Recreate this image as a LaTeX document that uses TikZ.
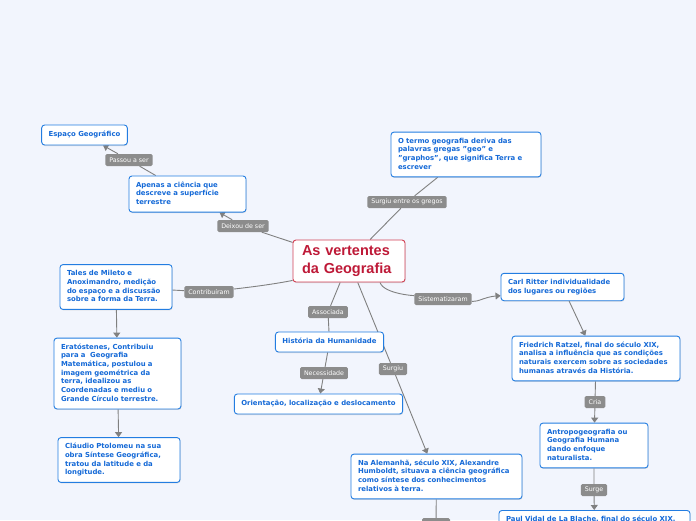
\documentclass[tikz,border=0pt]{standalone}
\usepackage{fontspec}
\setmainfont{DejaVu Sans}
\newfontfamily\titlefont{Liberation Sans}
\usetikzlibrary{arrows.meta,shadows,backgrounds}
\definecolor{pagebg}{RGB}{242,245,253}
\definecolor{boxblue}{RGB}{35,125,225}
\definecolor{txtblue}{RGB}{20,105,215}
\definecolor{titlered}{RGB}{190,25,55}
\definecolor{titleframe}{RGB}{210,65,85}
\definecolor{linkgray}{RGB}{128,128,128}
\definecolor{taggray}{RGB}{140,140,140}

\begin{document}
\begin{tikzpicture}[x=1pt,y=-1pt,
  idea/.style={draw=boxblue,line width=0.9pt,fill=white,rounded corners=3pt,
    text=txtblue,font=\fontsize{6.9}{8.7}\selectfont\bfseries,align=left,
    inner xsep=7pt,inner ysep=5pt,minimum height=20pt,
    execute at begin node=\strut,execute at end node=\strut,
    drop shadow={shadow xshift=0.5pt,shadow yshift=-1pt,opacity=0.3,fill=black!40}},
  theme/.style={idea,draw=titleframe,text=titlered,
    font=\titlefont\fontsize{14.5}{18}\selectfont\bfseries,inner xsep=9pt,inner ysep=3pt},
  tag/.style={fill=taggray,rounded corners=1.5pt,text=white,
    font=\fontsize{6.3}{7}\selectfont,inner xsep=4pt,inner ysep=2pt,minimum height=12pt},
  link/.style={draw=linkgray,line width=0.9pt},
  arr/.style={link,-{Triangle[width=7pt,length=5pt]}}]
  \useasboundingbox (0,0) rectangle (696,520);
  \clip (0,0) rectangle (696,520);

  % central theme
  \node[theme,text width=94pt] (title) at (349,261) {As vertentes\\da Geografia};

  % left branch
  \node[idea] (espaco) at (84.5,135) {Espaço Geográfico};
  \node[idea,text width=103pt] (apenas) at (187.5,194) {Apenas a ciência que\\descreve a superfície\\terrestre};
  \node[idea,text width=98pt] (tales) at (116,287) {Tales de Mileto e\\Anoximandro, medição\\do espaço e a discussão\\sobre a forma da Terra.};
  \node[idea,text width=113pt] (erat) at (117.5,373.5) {Eratóstenes, Contribuiu\\para a~ Geografia\\Matemática, postulou a\\imagem geométrica da\\terra, idealizou as\\Coordenadas e mediu o\\Grande Círculo terrestre.};
  \node[idea,text width=108pt] (claudio) at (119,460) {Cláudio Ptolomeu na sua\\obra Síntese Geográfica,\\tratou da latitude e da\\longitude.};

  % middle branch
  \node[idea,text width=136pt] (otermo) at (466,154.5) {O termo geografia deriva das\\palavras gregas "geo" e\\"graphos", que significa Terra e\\escrever};
  \node[idea] (historia) at (329.5,342) {História da Humanidade};
  \node[idea] (orient) at (318.5,404) {Orientação, localização e deslocamento};
  \node[idea,text width=157pt] (humboldt) at (436.5,476.5) {Na Alemanhã, século XIX, Alexandre\\Humboldt, situava a ciência geográfica\\como síntese dos conhecimentos\\relativos à terra.};

  % right branch
  \node[idea,text width=109pt] (ritter) at (562.5,287) {Carl Ritter individualidade\\dos lugares ou regiões};
  \node[idea,text width=154pt] (ratzel) at (596,358.5) {Friedrich Ratzel, final do século XIX,\\analisa a influência que as condições\\naturais exercem sobre as sociedades\\humanas através da História.};
  \node[idea,text width=94pt] (antropo) at (594,445.5) {Antropogeografia ou\\Geografia Humana\\dando enfoque\\naturalista.};
  \node[idea,text width=177pt,anchor=north] (vidal) at (594.5,510) {Paul Vidal de La Blache, final do século XIX,\\};

  % link labels
  \node[tag] (passou) at (129,160) {Passou a ser};
  \node[tag] (deixou) at (243,226) {Deixou de ser};
  \node[tag] (gregos) at (407,202) {Surgiu entre os gregos};
  \node[tag] (contrib) at (209,292) {Contribuíram};
  \node[tag] (assoc) at (328,312) {Associada};
  \node[tag] (necess) at (324,373) {Necessidade};
  \node[tag] (surgiu) at (393,369) {Surgiu};
  \node[tag] (sist) at (443,299) {Sistematizaram};
  \node[tag] (cria) at (595,402) {Cria};
  \node[tag] (surge) at (594,490) {Surge};
  \node[tag,minimum width=28pt] (below) at (436,524) {};

  \begin{scope}[on background layer]
    \fill[pagebg] (0,0) rectangle (696,520);
    \draw[arr] (apenas) -- (passou) -- (espaco);
    \draw[arr] (title) -- (deixou) -- (apenas);
    \draw[link] (title) -- (gregos) -- (otermo);
    \draw[link] (title.199) .. controls +(-25,5) and +(25,-3) .. (contrib) -- (tales);
    \draw[link] (title) -- (assoc) -- (historia);
    \draw[arr] (historia) -- (necess) -- (orient);
    \draw[arr] (title) -- (surgiu) -- (humboldt);
    \draw[link] (humboldt) -- (below);
    \draw[link] ([xshift=31pt]title.south) .. controls +(4,12) and +(-25,-3) .. (sist);
    \draw[arr] (sist) .. controls +(35,3) and +(-15,1) .. (ritter.188);
    \draw[arr] (ritter) -- (ratzel);
    \draw[arr] (tales) -- (erat);
    \draw[arr] (erat) -- (claudio);
    \draw[arr] (ratzel) -- (cria) -- (antropo);
    \draw[arr] (antropo) -- (surge) -- (vidal);
  \end{scope}
\end{tikzpicture}
\end{document}
